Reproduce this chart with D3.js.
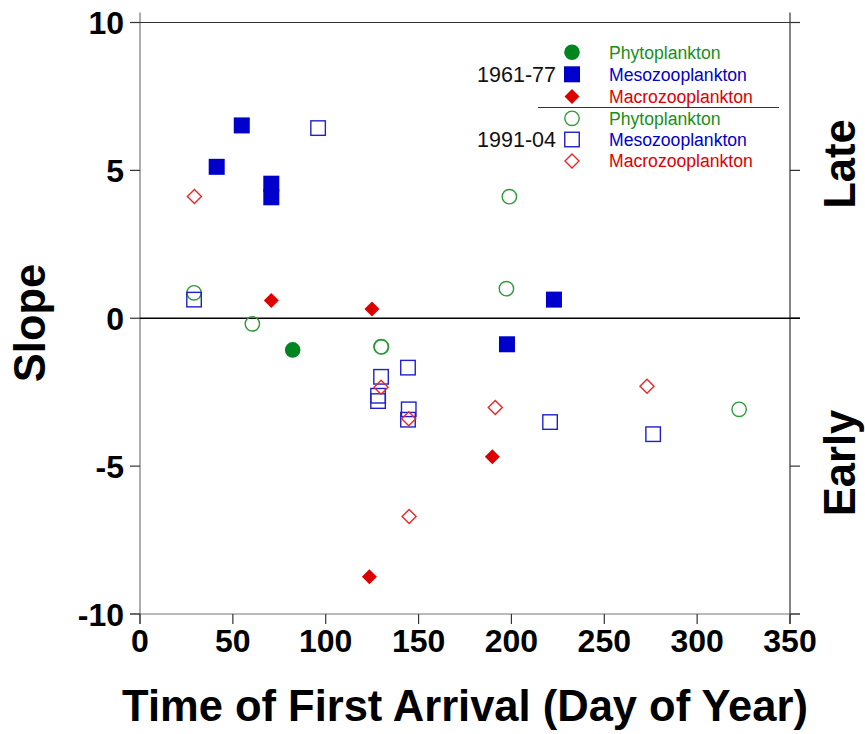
<!DOCTYPE html>
<html lang="en">
<head>
<meta charset="UTF-8">
<title>Slope vs Time of First Arrival</title>
<script src="https://d3js.org/d3.v7.min.js"></script>
<style>
  body { margin: 0; background: #fff; }
  svg { display: block; font-family: 'Liberation Sans', Arial, sans-serif; }
  .tick-lbl { font-weight: bold; fill: #000; }
  .title { font-weight: bold; fill: #000; font-size: 43.5px; }
</style>
</head>
<body>
<svg id="chart" width="865" height="734"></svg>
<script>
// day of year, slope
var phyto61 = [[82.2, -1.07]];
var meso61 = [[54.8, 6.52], [41.3, 5.12], [70.7, 4.55], [70.7, 4.09], [222.9, 0.63], [197.6, -0.88]];
var macro61 = [[70.7, 0.60], [124.9, 0.31], [123.5, -8.74], [189.7, -4.68]];
var phyto91 = [[29.1, 0.86], [60.5, -0.19], [129.8, -0.96], [130.0, -0.97], [198.9, 4.11], [197.3, 1.00], [322.6, -3.08]];
var meso91 = [[95.9, 6.43], [29.1, 0.63], [129.8, -1.98], [144.3, -1.67], [128.2, -2.62], [128.2, -2.80],
              [144.7, -3.08], [144.3, -3.43], [220.8, -3.51], [276.3, -3.92]];
var macro91 = [[29.3, 4.12], [129.8, -2.33], [144.7, -3.40], [144.9, -6.70], [191.3, -3.02], [273.0, -2.30]];

var xTicks = [0, 50, 100, 150, 200, 250, 300, 350];
var yTicks = [-10, -5, 0, 5, 10];
var groupNames = ["Phytoplankton", "Mesozooplankton", "Macrozooplankton"];
var periods = ["1961-77", "1991-04"];

var colFill = { Phytoplankton: "#00861f", Mesozooplankton: "#0000cc", Macrozooplankton: "#dd0000" };
var colOpen = { Phytoplankton: "#2e9a3a", Mesozooplankton: "#2020cc", Macrozooplankton: "#e82828" };
var colText = { Phytoplankton: "#189018", Mesozooplankton: "#0000cc", Macrozooplankton: "#e00000" };
var shapes = { Phytoplankton: "circle", Mesozooplankton: "square", Macrozooplankton: "diamond" };

var svg = d3.select("#chart");
var x = d3.scaleLinear().domain([0, 350]).range([140, 790]);
var y = d3.scaleLinear().domain([-10, 10]).range([614, 22.5]);

// frame
var frame = svg.append("g").attr("stroke-width", 1.2).attr("fill", "none");
frame.append("line").attr("x1", x(0)).attr("x2", x(0)).attr("y1", y(10) - 10).attr("y2", y(-10) + 10).attr("stroke", "#777");
frame.append("line").attr("x1", x(350)).attr("x2", x(350)).attr("y1", y(10) - 10).attr("y2", y(-10) + 10).attr("stroke", "#333");
frame.append("line").attr("x1", x(0) - 10).attr("x2", x(350) + 10).attr("y1", y(10)).attr("y2", y(10)).attr("stroke", "#333");
frame.append("line").attr("x1", x(0) - 10).attr("x2", x(350) + 10).attr("y1", y(-10)).attr("y2", y(-10)).attr("stroke", "#777");
// zero line
svg.append("line").attr("x1", x(0)).attr("x2", x(350) + 10).attr("y1", y(0)).attr("y2", y(0))
  .attr("stroke", "#000").attr("stroke-width", 1.3);

// ticks
yTicks.forEach(function(t) {
  frame.append("line").attr("x1", x(0) - 10).attr("x2", x(0)).attr("y1", y(t)).attr("y2", y(t)).attr("stroke", "#333");
  frame.append("line").attr("x1", x(350)).attr("x2", x(350) + 10).attr("y1", y(t)).attr("y2", y(t)).attr("stroke", "#333");
});
xTicks.forEach(function(t) {
  frame.append("line").attr("x1", x(t)).attr("x2", x(t)).attr("y1", y(-10)).attr("y2", y(-10) + 10).attr("stroke", "#333");
});

svg.selectAll("text.ylbl").data(yTicks).enter().append("text")
  .attr("class", "tick-lbl ylbl").attr("x", 124).attr("y", function(d) { return y(d); })
  .attr("dy", "0.36em").attr("text-anchor", "end").attr("font-size", 32)
  .text(function(d) { return d; });
svg.selectAll("text.xlbl").data(xTicks).enter().append("text")
  .attr("class", "tick-lbl xlbl").attr("x", function(d) { return x(d); }).attr("y", 652)
  .attr("text-anchor", "middle").attr("font-size", 32)
  .text(function(d) { return d; });

// titles
svg.append("text").attr("class", "title").attr("text-anchor", "middle")
  .attr("x", 465).attr("y", 721).text("Time of First Arrival (Day of Year)");
svg.append("text").attr("class", "title").attr("text-anchor", "middle")
  .attr("transform", "translate(45,323) rotate(-90)").text("Slope");
svg.append("text").attr("class", "title").attr("text-anchor", "middle")
  .attr("transform", "translate(855,164) rotate(-90)").text("Late");
svg.append("text").attr("class", "title").attr("text-anchor", "middle")
  .attr("transform", "translate(855,463) rotate(-90)").text("Early");

function marker(g, shape, cx, cy, filled, color) {
  var el;
  if (shape === "circle") {
    el = g.append("circle").attr("cx", cx).attr("cy", cy).attr("r", filled ? 7.8 : 7.2);
  } else if (shape === "square") {
    var s = filled ? 16 : 14.5;
    el = g.append("rect").attr("x", cx - s / 2).attr("y", cy - s / 2).attr("width", s).attr("height", s);
  } else {
    var h = filled ? 7.5 : 7;
    el = g.append("path").attr("d", "M" + cx + "," + (cy - h) + "L" + (cx + h) + "," + cy +
      "L" + cx + "," + (cy + h) + "L" + (cx - h) + "," + cy + "Z");
  }
  if (filled) el.attr("fill", color).attr("stroke", "none");
  else el.attr("fill", "none").attr("stroke", color).attr("stroke-width", 1.4);
  return el;
}

function drawSeries(data, name, filled) {
  var g = svg.append("g");
  data.forEach(function(d) {
    marker(g, shapes[name], x(d[0]), y(d[1]), filled, filled ? colFill[name] : colOpen[name]);
  });
}
drawSeries(phyto61, "Phytoplankton", true);
drawSeries(meso61, "Mesozooplankton", true);
drawSeries(macro61, "Macrozooplankton", true);
drawSeries(phyto91, "Phytoplankton", false);
drawSeries(meso91, "Mesozooplankton", false);
drawSeries(macro91, "Macrozooplankton", false);

// legend
var leg = svg.append("g");
var rowY = [52.3, 74.3, 96.5, 118.3, 139.5, 161];
periods.forEach(function(p, pi) {
  groupNames.forEach(function(n, ni) {
    var ry = rowY[pi * 3 + ni];
    marker(leg, shapes[n], 572, ry, pi === 0, pi === 0 ? colFill[n] : colOpen[n]);
    leg.append("text").attr("x", 609).attr("y", ry).attr("dy", "0.36em")
      .attr("font-size", 17.6).attr("fill", colText[n]).text(n);
  });
  leg.append("text").attr("x", 556).attr("y", rowY[pi * 3 + 1]).attr("dy", "0.37em")
    .attr("text-anchor", "end").attr("font-size", 21.5).attr("fill", "#111").text(p);
});
leg.append("line").attr("x1", 538).attr("x2", 779).attr("y1", 107.5).attr("y2", 107.5)
  .attr("stroke", "#333").attr("stroke-width", 1.2);
</script>
</body>
</html>
